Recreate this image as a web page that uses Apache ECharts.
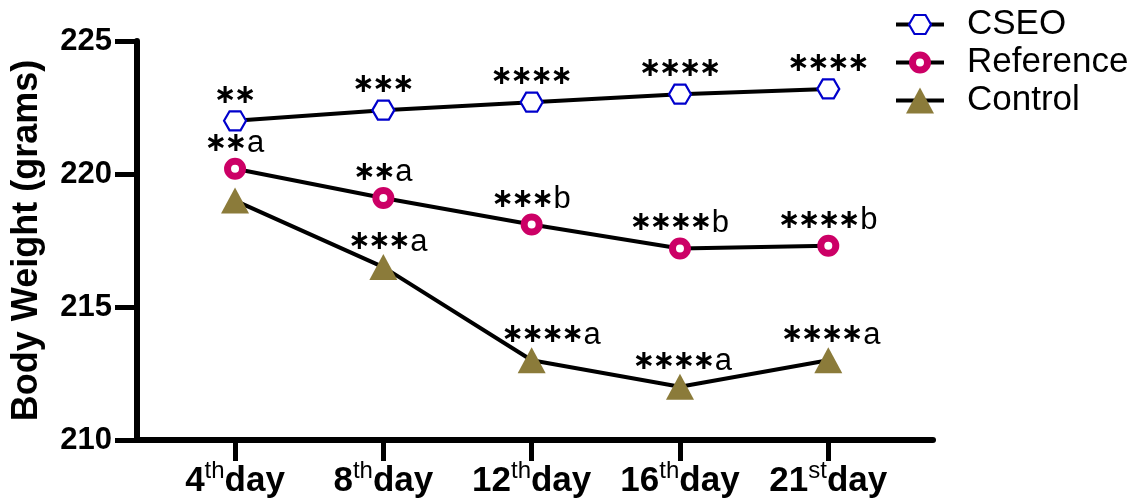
<!DOCTYPE html>
<html>
<head>
<meta charset="utf-8">
<script src="https://cdn.jsdelivr.net/npm/echarts@6/dist/echarts.min.js"></script>
<style>html,body{margin:0;padding:0;background:#fff}#c{width:1135px;height:504px}</style>
</head>
<body>
<div id="c"></div>
<script>
// ---- data ----
const dayNums = ['4', '8', '12', '16', '21'];
const daySups = ['th', 'th', 'th', 'th', 'st'];
const dayWord = 'day';
const yTicks = [210, 215, 220, 225];

const cseo      = [222.0, 222.4, 222.7, 223.0, 223.2];
const reference = [220.2, 219.1, 218.1, 217.2, 217.3];
const control   = [219.0, 216.5, 213.0, 212.0, 213.0];

const cseoLabels      = ['**', '***', '****', '****', '****'];
const referenceLabels = ['**a', '**a', '***b', '****b', '****b'];
const controlLabels   = ['', '***a', '****a', '****a', '****a'];

// ---- chart ----
const chart = echarts.init(document.getElementById('c'), null, {renderer: 'canvas'});
const xPos = dayNums.map((d, i) => i + 1);

function richLabel(s) {
  const stars = (s.match(/\*/g) || []).length;
  const rest = s.replace(/\*/g, '');
  let out = '';
  for (let k = 0; k < stars; k++) out += '{s|\u2217}';
  if (rest) out += '{t|' + rest + '}';
  return out;
}
const labelRich = {
  s: {fontFamily: 'DejaVu Sans', fontWeight: 'bold', fontSize: 27, color: '#000', width: 20, align: 'center'},
  t: {fontFamily: 'Liberation Sans, Arial, sans-serif', fontSize: 31, color: '#000', padding: [0, 0, 0, 1]}
};

function buildData(vals, labels, offsets) {
  return vals.map((v, i) => ({
    value: [xPos[i], v],
    label: {
      show: labels[i] !== '',
      formatter: richLabel(labels[i]),
      offset: offsets ? offsets[i] : [0, -25]
    }
  }));
}

// symbol paths, padded to a 28x28 box
const hexPath  = 'path://M0,0 M28,28 M3,14 L8.5,4.5 L19.5,4.5 L25,14 L19.5,23.5 L8.5,23.5 Z';
const ringPath = 'path://M0,0 M28,28 M6.5,14 A7.5,7.5 0 1,1 21.5,14 A7.5,7.5 0 1,1 6.5,14 Z';
const triPath  = 'path://M0,0 M28,28 M14,1 L28,27 L0,27 Z';

const commonLabel = {
  show: true, position: 'inside', align: 'center', verticalAlign: 'middle',
  rich: labelRich
};
const fontMain = 'Liberation Sans, Arial, sans-serif';

const option = {
  animation: false,
  backgroundColor: '#fff',
  grid: {left: 137, right: 202, top: 41, bottom: 64, containLabel: false, outerBoundsMode: 'none'},
  legend: {
    orient: 'vertical', left: 889, top: 2,
    itemWidth: 48, itemHeight: 35, itemGap: 3,
    lineStyle: {width: 4, color: '#000'},
    textStyle: {fontFamily: fontMain, fontSize: 35, color: '#000', padding: [0, 0, 0, 18]},
    data: [
      {name: 'CSEO', itemStyle: {borderWidth: 2.2}},
      {name: 'Reference', itemStyle: {borderWidth: 7}},
      {name: 'Control', itemStyle: {borderWidth: 0}}
    ]
  },
  xAxis: {
    type: 'value', min: 0.339, max: 5.706,
    axisLine: {show: true, lineStyle: {color: '#000', width: 6}},
    axisTick: {show: true, customValues: xPos, length: 21, lineStyle: {color: '#000', width: 5}},
    axisLabel: {
      customValues: xPos, margin: 19,
      formatter: v => {
        const i = Math.round(v) - 1;
        return '{n|' + dayNums[i] + '}{u|' + daySups[i] + '}{n|' + dayWord + '}';
      },
      rich: {
        n: {fontFamily: fontMain, fontWeight: 'bold', fontSize: 35, color: '#000', verticalAlign: 'bottom', lineHeight: 40},
        u: {fontFamily: 'Liberation Sans Narrow, ' + fontMain, fontSize: 24, color: '#000', verticalAlign: 'top', lineHeight: 24}
      }
    },
    splitLine: {show: false}
  },
  yAxis: {
    type: 'value', min: 210, max: 225, interval: 5,
    name: 'Body Weight (grams)', nameLocation: 'middle', nameGap: 92,
    nameTextStyle: {fontFamily: fontMain, fontWeight: 'bold', fontSize: 36, color: '#000'},
    axisLine: {show: true, lineStyle: {color: '#000', width: 6}},
    axisTick: {show: true, length: 22, lineStyle: {color: '#000', width: 5}},
    axisLabel: {
      margin: 25,
      fontFamily: fontMain, fontWeight: 'bold', fontSize: 31, color: '#000',
      formatter: v => yTicks.includes(v) ? String(v) : ''
    },
    splitLine: {show: false}
  },
  series: [
    {
      name: 'CSEO', type: 'line',
      symbol: hexPath, symbolSize: 28,
      lineStyle: {color: '#000', width: 4},
      itemStyle: {color: '#fff', borderColor: '#0000CC', borderWidth: 2.2},
      label: commonLabel,
      data: buildData(cseo, cseoLabels)
    },
    {
      name: 'Reference', type: 'line',
      symbol: ringPath, symbolSize: 28,
      lineStyle: {color: '#000', width: 4},
      itemStyle: {color: '#fff', borderColor: '#CC0066', borderWidth: 7},
      label: commonLabel,
      data: buildData(reference, referenceLabels)
    },
    {
      name: 'Control', type: 'line',
      symbol: triPath, symbolSize: 28,
      lineStyle: {color: '#000', width: 4},
      itemStyle: {color: '#8B7B3A', borderWidth: 0},
      label: commonLabel,
      data: buildData(control, controlLabels, [[0, -25], [5, -25], [20, -25], [3, -25], [3, -25]])
    }
  ]
};
chart.setOption(option);
</script>
</body>
</html>
